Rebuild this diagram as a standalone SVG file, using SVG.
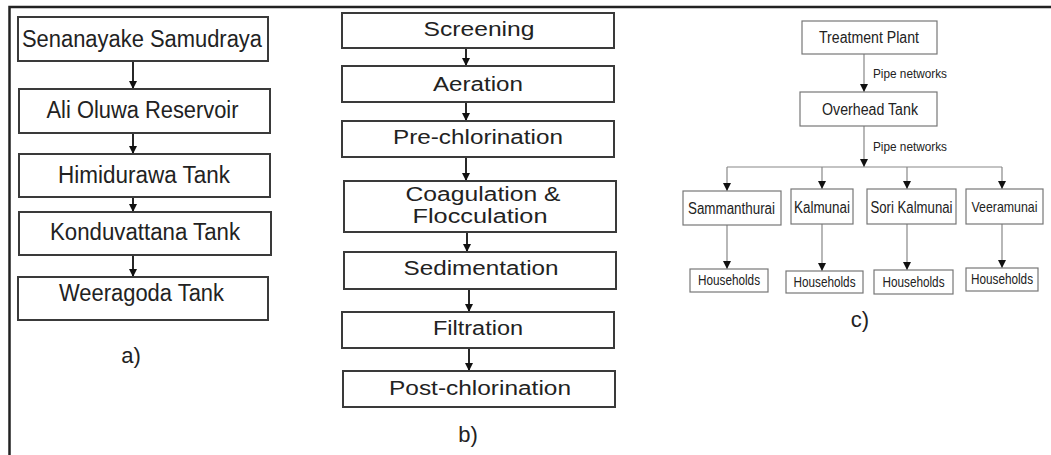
<svg xmlns="http://www.w3.org/2000/svg" width="1051" height="455" viewBox="0 0 1051 455">
<defs>
<marker id="ah" viewBox="0 0 10 10" refX="10" refY="5" markerWidth="8" markerHeight="9" markerUnits="userSpaceOnUse" orient="auto">
<path d="M0,0 L10,5 L0,10 z" fill="#111"/>
</marker>
<marker id="ahs" viewBox="0 0 10 10" refX="10" refY="5" markerWidth="9" markerHeight="8" markerUnits="userSpaceOnUse" orient="auto">
<path d="M0,0 L10,5 L0,10 z" fill="#111"/>
</marker>
</defs>
<style>
text{font-family:"Liberation Sans",Arial,sans-serif;fill:#222;text-anchor:middle}
.ba{fill:#fff;stroke:#3a3a3a;stroke-width:2}
.bc{fill:#fff;stroke:#777;stroke-width:1.2}
.ta{font-size:23px}
.tb{font-size:20px}
.tc{font-size:16px}
.tv{font-size:15px}
.th{font-size:14px}
.tp{font-size:13px}
.lab{font-size:22px}
.ca{stroke:#111;stroke-width:1.8;fill:none}
.cc{stroke:#888;stroke-width:1.2;fill:none}
.frame{stroke:#222;stroke-width:2.5;fill:none}
</style>
<rect x="0" y="0" width="1051" height="455" fill="#fff"/>
<path class="frame" d="M9.5,455 V7 H1051"/>

<g id="connectors">
<line class="ca" x1="133" y1="61" x2="133" y2="89" marker-end="url(#ah)"/>
<line class="ca" x1="133" y1="133" x2="133" y2="154" marker-end="url(#ah)"/>
<line class="ca" x1="133" y1="197" x2="133" y2="212" marker-end="url(#ah)"/>
<line class="ca" x1="133" y1="255" x2="133" y2="277" marker-end="url(#ah)"/>
<line class="ca" x1="466" y1="48" x2="466" y2="66" marker-end="url(#ah)"/>
<line class="ca" x1="466" y1="102" x2="466" y2="121" marker-end="url(#ah)"/>
<line class="ca" x1="466" y1="157" x2="466" y2="181" marker-end="url(#ah)"/>
<line class="ca" x1="467" y1="232" x2="467" y2="252" marker-end="url(#ah)"/>
<line class="ca" x1="469" y1="289" x2="469" y2="312" marker-end="url(#ah)"/>
<line class="ca" x1="469" y1="348" x2="469" y2="371" marker-end="url(#ah)"/>
<line class="cc" x1="864" y1="54" x2="864" y2="92" marker-end="url(#ahs)"/>
<line class="cc" x1="864" y1="126" x2="864" y2="167" marker-end="url(#ahs)"/>
<path class="cc" d="M727,167 H1002"/>
<line class="cc" x1="727" y1="167" x2="727" y2="191" marker-end="url(#ahs)"/>
<line class="cc" x1="822" y1="167" x2="822" y2="189" marker-end="url(#ahs)"/>
<line class="cc" x1="907" y1="167" x2="907" y2="189" marker-end="url(#ahs)"/>
<line class="cc" x1="1002" y1="167" x2="1002" y2="189" marker-end="url(#ahs)"/>
<line class="cc" x1="727" y1="225" x2="727" y2="269" marker-end="url(#ahs)"/>
<line class="cc" x1="822" y1="224" x2="822" y2="271" marker-end="url(#ahs)"/>
<line class="cc" x1="907" y1="224" x2="907" y2="270" marker-end="url(#ahs)"/>
<line class="cc" x1="1002" y1="224" x2="1002" y2="268" marker-end="url(#ahs)"/>
<text class="tp" x="910" y="78" textLength="74" lengthAdjust="spacingAndGlyphs">Pipe networks</text>
<text class="tp" x="910" y="151" textLength="74" lengthAdjust="spacingAndGlyphs">Pipe networks</text>
</g>

<g id="a-senanayake"><rect class="ba" x="18" y="17" width="250" height="44"/><text class="ta" x="142" y="47" textLength="240" lengthAdjust="spacingAndGlyphs">Senanayake Samudraya</text></g>
<g id="a-alioluwa"><rect class="ba" x="19" y="89" width="251" height="44"/><text class="ta" x="142.5" y="118" textLength="192" lengthAdjust="spacingAndGlyphs">Ali Oluwa Reservoir</text></g>
<g id="a-himidurawa"><rect class="ba" x="19" y="154" width="251" height="43"/><text class="ta" x="144" y="183" textLength="172" lengthAdjust="spacingAndGlyphs">Himidurawa Tank</text></g>
<g id="a-konduvattana"><rect class="ba" x="19" y="212" width="252" height="43"/><text class="ta" x="145" y="240" textLength="190" lengthAdjust="spacingAndGlyphs">Konduvattana Tank</text></g>
<g id="a-weeragoda"><rect class="ba" x="18" y="277" width="250" height="43"/><text class="ta" x="141.5" y="301" textLength="165" lengthAdjust="spacingAndGlyphs">Weeragoda Tank</text></g>
<text class="lab" x="131" y="363">a)</text>

<g id="b-screening"><rect class="ba" x="342" y="13" width="272" height="35"/><text class="tb" x="479" y="36" textLength="111" lengthAdjust="spacingAndGlyphs">Screening</text></g>
<g id="b-aeration"><rect class="ba" x="342" y="66" width="272" height="36"/><text class="tb" x="478" y="91" textLength="90" lengthAdjust="spacingAndGlyphs">Aeration</text></g>
<g id="b-prechlorination"><rect class="ba" x="342" y="121" width="272" height="36"/><text class="tb" x="478" y="144" textLength="170" lengthAdjust="spacingAndGlyphs">Pre-chlorination</text></g>
<g id="b-coagulation"><rect class="ba" x="344" y="181" width="272" height="51"/><text class="tb" x="483" y="201" textLength="155" lengthAdjust="spacingAndGlyphs">Coagulation &amp;</text><text class="tb" x="480" y="223" textLength="135" lengthAdjust="spacingAndGlyphs">Flocculation</text></g>
<g id="b-sedimentation"><rect class="ba" x="344" y="252" width="272" height="37"/><text class="tb" x="481" y="275" textLength="155" lengthAdjust="spacingAndGlyphs">Sedimentation</text></g>
<g id="b-filtration"><rect class="ba" x="342" y="312" width="272" height="36"/><text class="tb" x="478" y="335" textLength="90" lengthAdjust="spacingAndGlyphs">Filtration</text></g>
<g id="b-postchlorination"><rect class="ba" x="343" y="371" width="272" height="36"/><text class="tb" x="480" y="395" textLength="182" lengthAdjust="spacingAndGlyphs">Post-chlorination</text></g>
<text class="lab" x="468" y="442">b)</text>

<g id="c-treatment"><rect class="bc" x="802" y="21" width="135" height="33"/><text class="tc" x="869" y="43" textLength="100" lengthAdjust="spacingAndGlyphs">Treatment Plant</text></g>
<g id="c-overhead"><rect class="bc" x="800" y="92" width="137" height="34"/><text class="tc" x="870" y="115" textLength="96" lengthAdjust="spacingAndGlyphs">Overhead Tank</text></g>
<g id="c-sammanthurai"><rect class="bc" x="683" y="191" width="98" height="34"/><text class="tc" x="731.5" y="214" textLength="87" lengthAdjust="spacingAndGlyphs">Sammanthurai</text></g>
<g id="c-kalmunai"><rect class="bc" x="791" y="189" width="62" height="35"/><text class="tc" x="822" y="213" textLength="56" lengthAdjust="spacingAndGlyphs">Kalmunai</text></g>
<g id="c-sorikalmunai"><rect class="bc" x="867" y="189" width="89" height="35"/><text class="tc" x="911.5" y="213" textLength="82" lengthAdjust="spacingAndGlyphs">Sori Kalmunai</text></g>
<g id="c-veeramunai"><rect class="bc" x="966" y="189" width="77" height="35"/><text class="tv" x="1004.5" y="212" textLength="66" lengthAdjust="spacingAndGlyphs">Veeramunai</text></g>
<g id="c-households1"><rect class="bc" x="690" y="269" width="78" height="23"/><text class="th" x="729" y="285" textLength="62" lengthAdjust="spacingAndGlyphs">Households</text></g>
<g id="c-households2"><rect class="bc" x="786" y="271" width="77" height="22"/><text class="th" x="824.5" y="287" textLength="62" lengthAdjust="spacingAndGlyphs">Households</text></g>
<g id="c-households3"><rect class="bc" x="874" y="270" width="79" height="24"/><text class="th" x="913.5" y="287" textLength="62" lengthAdjust="spacingAndGlyphs">Households</text></g>
<g id="c-households4"><rect class="bc" x="966" y="268" width="72" height="23"/><text class="th" x="1002" y="284" textLength="62" lengthAdjust="spacingAndGlyphs">Households</text></g>
<text class="lab" x="860" y="327">c)</text>
</svg>
